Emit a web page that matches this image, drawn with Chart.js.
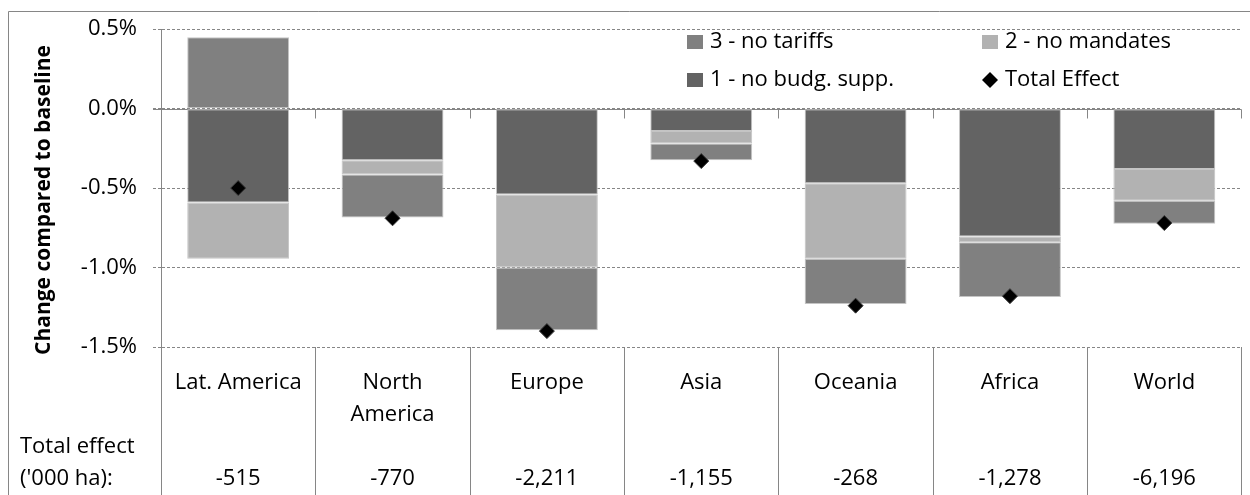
<!DOCTYPE html>
<html>
<head>
<meta charset="utf-8">
<script src="https://cdn.jsdelivr.net/npm/chart.js@4.4.0/dist/chart.umd.min.js"></script>
<style>
  html, body { margin: 0; padding: 0; background: #fff; }
</style>
</head>
<body>
<canvas id="chartLand" width="1250" height="495"></canvas>
<script>
// regions (one entry per line of the label)
const regions = [['Lat. America'], ['North', 'America'], ['Europe'], ['Asia'], ['Oceania'], ['Africa'], ['World']];
// total effect, '000 ha
const totalHa = ['-515', '-770', '-2,211', '-1,155', '-268', '-1,278', '-6,196'];
// change compared to baseline, %
const noBudgSupp = [-0.59, -0.325, -0.54, -0.14, -0.47, -0.805, -0.38];
const noMandates = [-0.355, -0.09, -0.46, -0.08, -0.475, -0.035, -0.2];
const noTariffs = [0.45, -0.27, -0.395, -0.105, -0.285, -0.345, -0.145];
const totalEffect = [-0.50, -0.69, -1.40, -0.33, -1.24, -1.18, -0.72];
const yTickValues = [0.5, 0, -0.5, -1.0, -1.5];

const FONT = "'Open Sans', sans-serif";
const FSIZE = 22;
const GRAY = '#868686';
const LINE_H = 32;
const LABEL_PAD = 20;

Chart.defaults.font.family = FONT;
Chart.defaults.font.size = FSIZE;
Chart.defaults.color = '#000';

function boundaries(xs) {
  const half = (xs.getPixelForValue(1) - xs.getPixelForValue(0)) / 2;
  const out = [];
  for (let k = 0; k <= regions.length; k++) {
    out.push(Math.round(xs.getPixelForValue(0) - half + k * 2 * half) + 0.5);
  }
  return out;
}

const extras = {
  id: 'extras',
  beforeDatasetsDraw(chart) {
    const {ctx, chartArea, scales} = chart;
    const y0 = Math.round(scales.y.getPixelForValue(0)) + 0.5;
    ctx.save();
    ctx.strokeStyle = GRAY;
    ctx.lineWidth = 1;
    ctx.beginPath();
    ctx.moveTo(chartArea.left - 8, y0);
    ctx.lineTo(chartArea.right, y0);
    boundaries(scales.x).forEach(bx => {
      ctx.moveTo(bx, y0);
      ctx.lineTo(bx, y0 + 9);
    });
    ctx.stroke();
    ctx.restore();
  },
  afterDraw(chart) {
    const {ctx, chartArea, scales} = chart;
    const ds = chart.data.datasets;
    ctx.save();
    ctx.strokeStyle = GRAY;
    ctx.lineWidth = 1;
    // outer frame
    ctx.beginPath();
    ctx.moveTo(8.5, chart.height);
    ctx.lineTo(8.5, 11.5);
    ctx.lineTo(chart.width, 11.5);
    // table lines under the plot
    boundaries(scales.x).forEach(bx => {
      ctx.moveTo(bx, chartArea.bottom);
      ctx.lineTo(bx, chart.height);
    });
    ctx.stroke();

    // row header of the table
    ctx.fillStyle = '#000';
    ctx.font = FSIZE + 'px ' + FONT;
    ctx.textAlign = 'left';
    ctx.textBaseline = 'middle';
    const rowY = k => scales.x.top + LABEL_PAD + LINE_H * (k + 0.5);
    ctx.fillText('Total effect', 20, rowY(2));
    ctx.fillText("('000 ha):", 20, rowY(3));

    // y title
    ctx.save();
    ctx.translate(44, 200);
    ctx.rotate(-Math.PI / 2);
    ctx.textAlign = 'center';
    ctx.font = 'bold 21px ' + FONT;
    ctx.fillText('Change compared to baseline', 0, 0);
    ctx.restore();

    // legend: 2 columns, 3 / 2 on top, 1 / total below
    const cells = [
      {d: ds[2], x: 687, y: 42},
      {d: ds[1], x: 982, y: 42},
      {d: ds[0], x: 687, y: 80},
      {d: ds[3], x: 982, y: 80}
    ];
    cells.forEach(c => {
      if (c.d.type === 'line') {
        const cx = c.x + 8, r = 8;
        ctx.fillStyle = '#000';
        ctx.beginPath();
        ctx.moveTo(cx, c.y - r);
        ctx.lineTo(cx + r, c.y);
        ctx.lineTo(cx, c.y + r);
        ctx.lineTo(cx - r, c.y);
        ctx.closePath();
        ctx.fill();
      } else {
        ctx.fillStyle = c.d.backgroundColor;
        ctx.fillRect(c.x, c.y - 7, 16, 14);
      }
      ctx.fillStyle = '#000';
      ctx.textAlign = 'left';
      ctx.fillText(c.d.label, c.x + 23, c.y);
    });
    ctx.restore();
  }
};

const barStyle = {
  borderColor: '#c4c4c4',
  borderWidth: 1,
  borderSkipped: false,
  barPercentage: 0.66,
  categoryPercentage: 1.0,
  stack: 'parts'
};

const ctx = document.getElementById('chartLand').getContext('2d');
const myChart = new Chart(ctx, {
  type: 'bar',
  data: {
    labels: regions,
    datasets: [
      Object.assign({label: '1 - no budg. supp.', data: noBudgSupp, backgroundColor: '#636363'}, barStyle),
      Object.assign({label: '2 - no mandates', data: noMandates, backgroundColor: '#b2b2b2'}, barStyle),
      Object.assign({label: '3 - no tariffs', data: noTariffs, backgroundColor: '#808080'}, barStyle),
      {
        type: 'line',
        label: 'Total Effect',
        data: totalEffect,
        stack: 'total',
        order: -1,
        showLine: false,
        pointStyle: 'rectRot',
        radius: 7.5,
        backgroundColor: '#000',
        borderColor: '#3a3a3a',
        borderWidth: 1
      }
    ]
  },
  options: {
    responsive: false,
    animation: false,
    devicePixelRatio: 1,
    layout: {
      padding: {top: 28, right: 5, left: 0, bottom: 0}
    },
    plugins: {
      legend: {display: false},
      tooltip: {enabled: false}
    },
    scales: {
      x: {
        stacked: true,
        grid: {display: false, drawTicks: false},
        border: {display: false},
        ticks: {
          padding: LABEL_PAD,
          maxRotation: 0,
          autoSkip: false,
          font: {size: FSIZE, lineHeight: LINE_H / FSIZE},
          callback: (v, i) => {
            const r = regions[i];
            return [r[0], r[1] || '', '', totalHa[i]];
          }
        },
        afterFit: s => { s.height = 148; }
      },
      y: {
        stacked: true,
        min: -1.5,
        max: 0.5,
        afterBuildTicks: s => { s.ticks = yTickValues.map(v => ({value: v})); },
        grid: {
          color: GRAY,
          lineWidth: 1,
          tickLength: 8,
          tickColor: GRAY,
          tickBorderDash: [3, 2]
        },
        border: {display: true, color: GRAY, dash: [3, 2]},
        ticks: {
          padding: 16,
          callback: v => v.toFixed(1) + '%'
        },
        afterFit: s => { s.width = 161; }
      }
    }
  },
  plugins: [extras]
});
</script>
</body>
</html>
